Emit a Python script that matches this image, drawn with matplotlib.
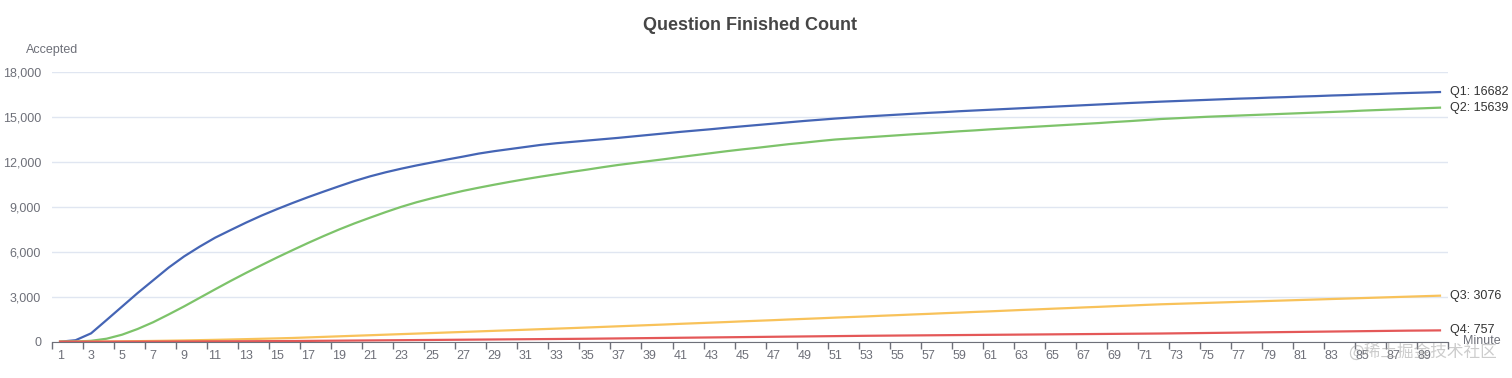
import matplotlib
matplotlib.use("Agg")
import matplotlib.pyplot as plt
from matplotlib.ticker import FuncFormatter

# minutes 1..90
minutes = list(range(1, 91))

q1 = [0, 100, 560, 1450, 2350, 3250, 4100, 4950, 5700, 6350,
      6950, 7460, 7960, 8430, 8860, 9270, 9660, 10030, 10390, 10740,
      11050, 11320, 11560, 11780, 11980, 12180, 12370, 12570, 12730, 12870,
      13010, 13150, 13260, 13350, 13440, 13530, 13620, 13720, 13820, 13920,
      14020, 14110, 14200, 14300, 14390, 14480, 14570, 14660, 14750, 14830,
      14910, 14980, 15050, 15110, 15170, 15230, 15290, 15340, 15400, 15450,
      15500, 15550, 15600, 15650, 15700, 15750, 15800, 15850, 15900, 15950,
      15995, 16040, 16080, 16120, 16160, 16200, 16240, 16270, 16310, 16340,
      16380, 16410, 16450, 16480, 16520, 16550, 16590, 16620, 16650, 16682]

q2 = [0, 10, 60, 200, 470, 850, 1300, 1820, 2360, 2930,
      3500, 4060, 4600, 5120, 5630, 6120, 6600, 7060, 7500, 7910,
      8290, 8660, 9010, 9320, 9590, 9840, 10080, 10290, 10490, 10680,
      10860, 11030, 11190, 11350, 11500, 11660, 11810, 11940, 12070, 12200,
      12340, 12470, 12600, 12730, 12850, 12960, 13080, 13200, 13300, 13410,
      13510, 13580, 13650, 13720, 13790, 13860, 13920, 13990, 14060, 14120,
      14190, 14250, 14310, 14370, 14430, 14490, 14550, 14610, 14680, 14740,
      14810, 14880, 14930, 14980, 15030, 15070, 15110, 15150, 15190, 15230,
      15270, 15310, 15350, 15390, 15440, 15480, 15520, 15560, 15600, 15639]

q3 = [0, 2, 8, 15, 25, 38, 52, 68, 85, 105,
      125, 148, 172, 197, 222, 250, 287, 323, 360, 397,
      433, 470, 507, 543, 580, 617, 653, 690, 727, 763,
      800, 837, 873, 910, 950, 990, 1030, 1070, 1110, 1150,
      1195, 1235, 1275, 1315, 1360, 1400, 1440, 1485, 1525, 1565,
      1610, 1650, 1690, 1735, 1775, 1820, 1860, 1905, 1945, 1990,
      2030, 2075, 2120, 2160, 2205, 2245, 2290, 2330, 2375, 2415,
      2460, 2500, 2532, 2564, 2596, 2628, 2660, 2692, 2724, 2756,
      2788, 2820, 2852, 2884, 2916, 2948, 2980, 3012, 3044, 3076]

q4 = [0, 0, 1, 2, 4, 6, 9, 12, 15, 19,
      23, 27, 31, 36, 41, 46, 54, 62, 70, 78,
      86, 94, 102, 110, 118, 126, 134, 142, 150, 158,
      166, 174, 182, 190, 198, 209, 220, 231, 242, 253,
      264, 275, 286, 297, 308, 319, 330, 341, 352, 363,
      374, 385, 396, 404, 412, 420, 428, 436, 444, 452,
      460, 468, 476, 484, 492, 500, 508, 516, 524, 532,
      540, 548, 560, 572, 584, 596, 608, 620, 632, 644,
      656, 668, 680, 692, 704, 716, 728, 740, 748, 757]

series_names = ["Q1", "Q2", "Q3", "Q4"]
series_vals = [q1, q2, q3, q4]
colors = ["#4565b5", "#7dc36a", "#f8c25a", "#e45858"]

y_ticks = [0, 3000, 6000, 9000, 12000, 15000, 18000]

plt.rcParams["font.family"] = ["Liberation Sans", "Noto Sans CJK SC"]

fig = plt.figure(figsize=(15.12, 3.78), dpi=100)
ax = fig.add_axes([0.0346, 0.096, 0.9229, 0.7127])

xs = list(range(len(minutes)))
for name, vals, c in zip(series_names, series_vals, colors):
    ax.plot(xs, vals, color=c, lw=1.6, solid_joinstyle="round", zorder=3)
    ax.annotate(f"{name}: {vals[-1]}", xy=(xs[-1], vals[-1]), xytext=(7, 0),
                textcoords="offset points", va="center", ha="left",
                fontsize=9, color="#333333", annotation_clip=False)

ax.set_xlim(-0.5, len(minutes) - 0.5)
ax.set_ylim(0, 18000)

# category axis: tick marks on band edges, labels on every other band
ax.set_xticks([i - 0.5 for i in range(0, len(minutes) + 1, 2)])
ax.set_xticklabels([])
ax.set_xticks(xs[::2], minor=True)
ax.set_xticklabels([str(m) for m in minutes[::2]], minor=True)
ax.tick_params(axis="x", which="major", length=5, width=1, color="#6e7079")
ax.tick_params(axis="x", which="minor", length=0, pad=6, labelsize=9,
               labelcolor="#6e7079")

ax.set_yticks(y_ticks)
ax.yaxis.set_major_formatter(FuncFormatter(lambda v, p: f"{int(v):,}"))
ax.tick_params(axis="y", length=0, pad=8, labelsize=9, labelcolor="#6e7079")
ax.grid(axis="y", color="#e0e6f1", lw=1)
ax.set_axisbelow(True)

for s in ["top", "right", "left"]:
    ax.spines[s].set_visible(False)
ax.spines["bottom"].set_color("#6e7079")
ax.spines["bottom"].set_zorder(4)

fig.text(0.496, 0.933, "Question Finished Count", ha="center", va="center",
         fontsize=13, color="#464646", fontweight="bold")
fig.text(52 / 1512, 1 - 50 / 378, "Accepted", ha="center", va="center",
         fontsize=9, color="#6e7079")
fig.text(1463 / 1512, 1 - 341 / 378, "Minute", ha="left", va="center",
         fontsize=9, color="#6e7079")
fig.text(1497 / 1512, 1 - 352 / 378, "@稀土掘金技术社区", ha="right", va="center",
         fontsize=12, color="#9a9a9a", alpha=0.5,
         family=["Noto Sans CJK SC", "DejaVu Sans"])

fig.savefig("out.png", dpi=100)
